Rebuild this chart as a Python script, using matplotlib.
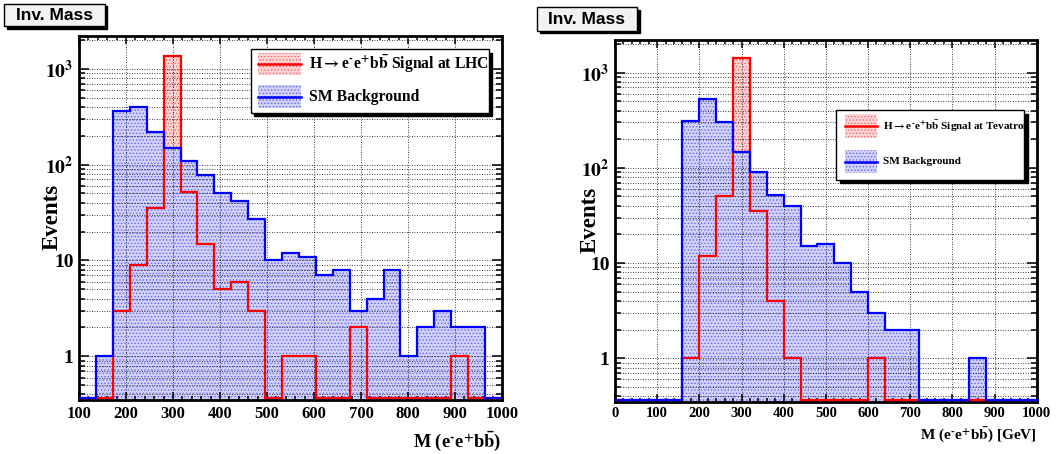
import numpy as np
import matplotlib
matplotlib.use("Agg")
import matplotlib.pyplot as plt
from matplotlib.patches import Rectangle
from matplotlib.lines import Line2D
from matplotlib.ticker import FixedLocator, MultipleLocator, FuncFormatter, NullFormatter
from matplotlib import transforms

plt.rcParams['font.family'] = ['Liberation Serif', 'DejaVu Serif']
plt.rcParams['font.weight'] = 'bold'
plt.rcParams['mathtext.fontset'] = 'stix'
plt.rcParams['hatch.linewidth'] = 0.6

# ---------------- data ----------------
lhc_edges = np.linspace(100, 1000, 26)
lhc_bkg = [0, 1, 360, 400, 220, 150, 110, 78, 50, 42, 27, 10, 12, 11, 7, 8, 3, 4, 8, 1, 2, 3, 2, 2, 0]
lhc_sig = [0, 0, 3, 9, 35, 1360, 52, 15, 5, 6, 3, 0, 1, 1, 0, 0, 2, 0, 0, 0, 0, 0, 1, 0, 0]

tev_edges = np.linspace(0, 1000, 26)
tev_bkg = [0, 0, 0, 0, 310, 530, 300, 147, 90, 52, 40, 15, 16, 10, 5, 3, 2, 2, 0, 0, 0, 1, 0, 0, 0]
tev_sig = [0, 0, 0, 0, 1, 12, 50, 1420, 35, 4, 1, 0, 0, 0, 0, 1, 0, 0, 0, 0, 0, 0, 0, 0, 0]

y_ticks = [1, 10, 100, 1000]
y_tick_labels = ['1', '10', r'$\mathbf{10^{2}}$', r'$\mathbf{10^{3}}$']
x_ticks_lhc = list(range(100, 1001, 100))
x_ticks_tev = list(range(0, 1001, 100))

EEBB = r'e$^{\text{-}}$e$^{\text{+}}$b$\mathbf{\bar{b}}$'
sig_label_lhc = r'H$\mathbf{\rightarrow}$' + EEBB + ' Signal at LHC'
sig_label_tev = r'H$\mathbf{\rightarrow}$' + EEBB + ' Signal at Tevatron'
bkg_label = 'SM Background'
xlabel_lhc = 'M (' + EEBB + ')'
xlabel_tev = 'M (' + EEBB + ') [GeV]'
title_text = 'Inv. Mass'

YLO, YHI = 0.35, 2200
ZERO_LEVEL = YLO * 1.05   # empty bins are drawn on the bottom of the frame (ROOT style)

W, H = 1056, 454
fig = plt.figure(figsize=(W / 100, H / 100), dpi=100)

BLUE_FACE = (0.82, 0.82, 0.98)
BLUE_HATCH = (0.40, 0.40, 0.95)
RED_FACE = (0.99, 0.84, 0.84)
RED_HATCH = (0.97, 0.40, 0.40)


def fx(px):
    return px / W


def fy(py):
    return 1 - py / H


def draw_hist(ax, edges, sig, bkg):
    s = np.where(np.asarray(sig, float) > 0, sig, ZERO_LEVEL)
    b = np.where(np.asarray(bkg, float) > 0, bkg, ZERO_LEVEL)
    ax.stairs(s, edges, baseline=YLO, fill=True, facecolor=RED_FACE,
              edgecolor=RED_HATCH, hatch='.....', linewidth=0, zorder=1)
    ax.stairs(b, edges, baseline=YLO, fill=True, facecolor=BLUE_FACE,
              edgecolor=BLUE_HATCH, hatch='.....', linewidth=0, zorder=1.1)
    ax.stairs(s, edges, baseline=YLO, color='#ff0000', linewidth=1.6, zorder=3)
    ax.stairs(b, edges, baseline=YLO, color='#0000ff', linewidth=1.6, zorder=3.1)


def style_axes(ax, xlim, xticks, xfs):
    ax.set_yscale('log')
    ax.set_ylim(YLO, YHI)
    ax.set_xlim(*xlim)
    ax.xaxis.set_major_locator(FixedLocator(xticks))
    ax.xaxis.set_minor_locator(MultipleLocator(20))
    ax.yaxis.set_major_locator(FixedLocator(y_ticks))
    ax.yaxis.set_major_formatter(FuncFormatter(lambda v, p: y_tick_labels[y_ticks.index(v)] if v in y_ticks else ''))
    ax.yaxis.set_minor_locator(matplotlib.ticker.LogLocator(base=10, subs=np.arange(2, 10), numticks=20))
    ax.yaxis.set_minor_formatter(NullFormatter())
    ax.tick_params(which='both', direction='in', top=True, right=True, width=1.1)
    ax.tick_params(axis='y', which='major', length=7.5, labelsize=14, pad=4)
    ax.tick_params(axis='y', which='minor', length=4)
    ax.tick_params(axis='x', which='major', length=5.5, labelsize=xfs, pad=4)
    ax.tick_params(axis='x', which='minor', length=3)
    for lab in ax.get_xticklabels() + ax.get_yticklabels():
        lab.set_fontweight('bold')
    ax.grid(True, which='major', axis='x', color='black', linestyle=(0, (1, 2)), linewidth=0.6)
    ax.grid(True, which='both', axis='y', color='black', linestyle=(0, (1, 2)), linewidth=0.6)
    for sp in ax.spines.values():
        sp.set_linewidth(2.0)
        sp.set_zorder(2.5)


def draw_legend(ax, box, rows, fs, hx, tx):
    x0, y0, x1, y1 = box
    shadow_tr = transforms.offset_copy(ax.transAxes, fig=fig, x=2.5, y=-2.5, units='points')
    ax.add_patch(Rectangle((x0, y0), x1 - x0, y1 - y0, transform=shadow_tr,
                           facecolor='black', edgecolor='black', lw=1, zorder=9, clip_on=False))
    ax.add_patch(Rectangle((x0, y0), x1 - x0, y1 - y0, transform=ax.transAxes,
                           facecolor='white', edgecolor='black', lw=1, zorder=10, clip_on=False))
    for (label, face, hatchc, linec, yc, hh) in rows:
        ax.add_patch(Rectangle((hx[0], yc - hh / 2), hx[1] - hx[0], hh, transform=ax.transAxes,
                               facecolor=face, edgecolor=hatchc, hatch='.....', lw=0,
                               zorder=11, clip_on=False))
        ax.add_line(Line2D([hx[0], hx[1]], [yc, yc], transform=ax.transAxes, color=linec,
                           lw=1.8, zorder=12, clip_on=False))
        ax.text(tx, yc, label, transform=ax.transAxes, fontsize=fs, fontweight='bold',
                ha='left', va='center', zorder=13)


def draw_title(x0, y0, x1, y1):
    fig.patches.append(Rectangle((fx(x0) + 2.5 / W, fy(y1) - 2.5 / H), fx(x1) - fx(x0), fy(y0) - fy(y1),
                                 transform=fig.transFigure, facecolor='black', edgecolor='black', lw=1))
    fig.patches.append(Rectangle((fx(x0), fy(y1)), fx(x1) - fx(x0), fy(y0) - fy(y1),
                                 transform=fig.transFigure, facecolor='#f2f2f2', edgecolor='black', lw=1))
    fig.text(fx((x0 + x1) / 2), fy((y0 + y1) / 2), title_text, family='Liberation Sans',
             fontweight='bold', fontsize=12.5, ha='center', va='center')


# ---------------- left (LHC) ----------------
axL = fig.add_axes([fx(79), fy(400), (502 - 79) / W, (400 - 36) / H])
draw_hist(axL, lhc_edges, lhc_sig, lhc_bkg)
style_axes(axL, (100, 1000), x_ticks_lhc, 12)
draw_legend(axL, (0.406, 0.789, 0.969, 0.963),
            [(sig_label_lhc, RED_FACE, RED_HATCH, '#ff0000', (400 - 64) / 364, 22.5 / 364),
             (bkg_label, BLUE_FACE, BLUE_HATCH, '#0000ff', (400 - 96.7) / 364, 22.5 / 364)],
            11.3, ((258.3 - 79) / 423, (301 - 79) / 423), (309 - 79) / 423)
fig.text(fx(52), fy(217), 'Events', rotation=90, fontsize=16.5, fontweight='bold', ha='center', va='center')
fig.text(fx(501), fy(429), xlabel_lhc, fontsize=13.2, fontweight='bold', ha='right', va='top')
draw_title(4.3, 4, 105, 26)

# ---------------- right (Tevatron) ----------------
axR = fig.add_axes([fx(615), fy(401.7), (1036.7 - 615) / W, (401.7 - 40) / H])
draw_hist(axR, tev_edges, tev_sig, tev_bkg)
style_axes(axR, (0, 1000), x_ticks_tev, 10.5)
draw_legend(axR, (0.525, 0.613, 0.970, 0.806),
            [(sig_label_tev, RED_FACE, RED_HATCH, '#ff0000', (401.7 - 126) / 361.7, 24.4 / 361.7),
             (bkg_label, BLUE_FACE, BLUE_HATCH, '#0000ff', (401.7 - 161.7) / 361.7, 22.6 / 361.7)],
            8, ((845 - 615) / 421.7, (877.3 - 615) / 421.7), (883 - 615) / 421.7)
fig.text(fx(589.7), fy(219.5), 'Events', rotation=90, fontsize=16.5, fontweight='bold', ha='center', va='center')
fig.text(fx(1036.7), fy(426), xlabel_tev, fontsize=11, fontweight='bold', ha='right', va='top')
draw_title(537, 7.3, 637, 30.7)

fig.savefig('out.png', dpi=100)
